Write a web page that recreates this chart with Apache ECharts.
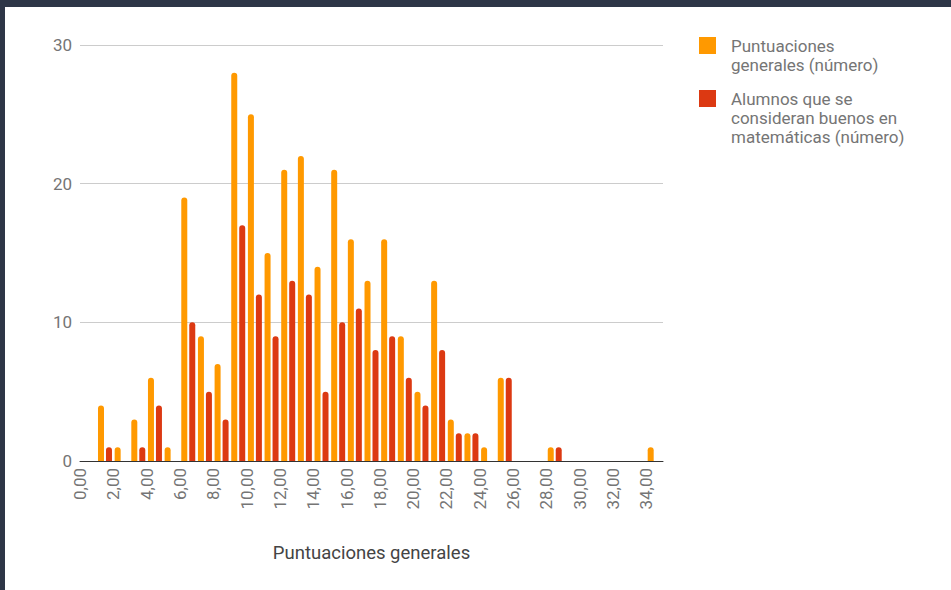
<!DOCTYPE html>
<html>
<head>
<meta charset="utf-8">
<script src="https://cdn.jsdelivr.net/npm/echarts@6/dist/echarts.min.js"></script>
<style>
html,body{margin:0;padding:0;width:951px;height:590px;background:#2e3647;overflow:hidden;}
#chart{position:absolute;left:5px;top:7px;width:946px;height:583px;background:#ffffff;}
</style>
</head>
<body>
<div id="chart"></div>
<script>
// Data
var scoreBins = [1.5,2.5,3.5,4.5,5.5,6.5,7.5,8.5,9.5,10.5,11.5,12.5,13.5,14.5,15.5,16.5,17.5,18.5,19.5,20.5,21.5,22.5,23.5,24.5,25.5,28.5,34.5];
var totalCounts = [4,1,3,6,1,19,9,7,28,25,15,21,22,14,21,16,13,16,9,5,13,3,2,1,6,1,1];
var goodAtMathCounts = [1,0,1,4,0,10,5,3,17,12,9,13,12,5,10,11,8,9,6,4,8,2,2,0,6,1,0];
var seriesNames = ['Puntuaciones generales (número)', 'Alumnos que se consideran buenos en matemáticas (número)'];
var legendLabels = ['Puntuaciones\ngenerales (número)', 'Alumnos que se\nconsideran buenos en\nmatemáticas (número)'];
var xAxisTitle = 'Puntuaciones generales';
var yTicks = [0, 10, 20, 30];

var colors = ['#ff9900', '#dc3912'];
var textGray = '#757575';
var fontFam = 'Roboto, "Noto Sans", sans-serif';

function pairs(xs, ys){ return xs.map(function(x,i){ return [x, ys[i]]; }); }

var legendGraphics = [];
var legendTops = [30, 83];
legendLabels.forEach(function(lbl, i){
  legendGraphics.push({
    type:'rect', left:694, top:legendTops[i],
    shape:{width:17, height:17},
    style:{fill:colors[i]}
  });
  legendGraphics.push({
    type:'text', left:726, top:legendTops[i] - 1,
    style:{text:lbl, fill:textGray, font:'17px ' + fontFam, lineHeight:19, verticalAlign:'top'}
  });
});

var chart = echarts.init(document.getElementById('chart'), null, {renderer:'svg'});
chart.setOption({
  animation:false,
  color: colors,
  textStyle:{fontFamily:fontFam},
  grid:{left:75, top:38, width:583, height:416, containLabel:false},
  graphic: legendGraphics,
  xAxis:{
    type:'value', min:0, max:35, interval:2,
    name:xAxisTitle, nameLocation:'middle', nameGap:82,
    nameTextStyle:{color:'#444444', fontSize:18.5, fontFamily:fontFam},
    axisLine:{show:true, lineStyle:{color:'#333333', width:1}},
    axisTick:{show:false},
    splitLine:{show:false},
    axisLabel:{
      rotate:90, margin:7, color:textGray, fontSize:17, fontFamily:fontFam,
      showMaxLabel:false,
      formatter:function(v){ return (v % 2 === 0 && v <= 34) ? v.toFixed(2).replace('.', ',') : ''; }
    }
  },
  yAxis:{
    type:'value', min:yTicks[0], max:yTicks[yTicks.length-1], interval:10,
    axisLine:{show:false}, axisTick:{show:false},
    splitLine:{lineStyle:{color:'#cccccc', width:1}},
    axisLabel:{color:textGray, fontSize:17, margin:8, fontFamily:fontFam}
  },
  series:[{
    name:seriesNames[0], type:'bar', barWidth:6, barGap:'33%',
    itemStyle:{color:colors[0], borderRadius:[3,3,0,0]},
    data:pairs(scoreBins, totalCounts)
  },{
    name:seriesNames[1], type:'bar', barWidth:6, barGap:'33%',
    itemStyle:{color:colors[1], borderRadius:[3,3,0,0]},
    data:pairs(scoreBins, goodAtMathCounts)
  }]
});
</script>
</body>
</html>
